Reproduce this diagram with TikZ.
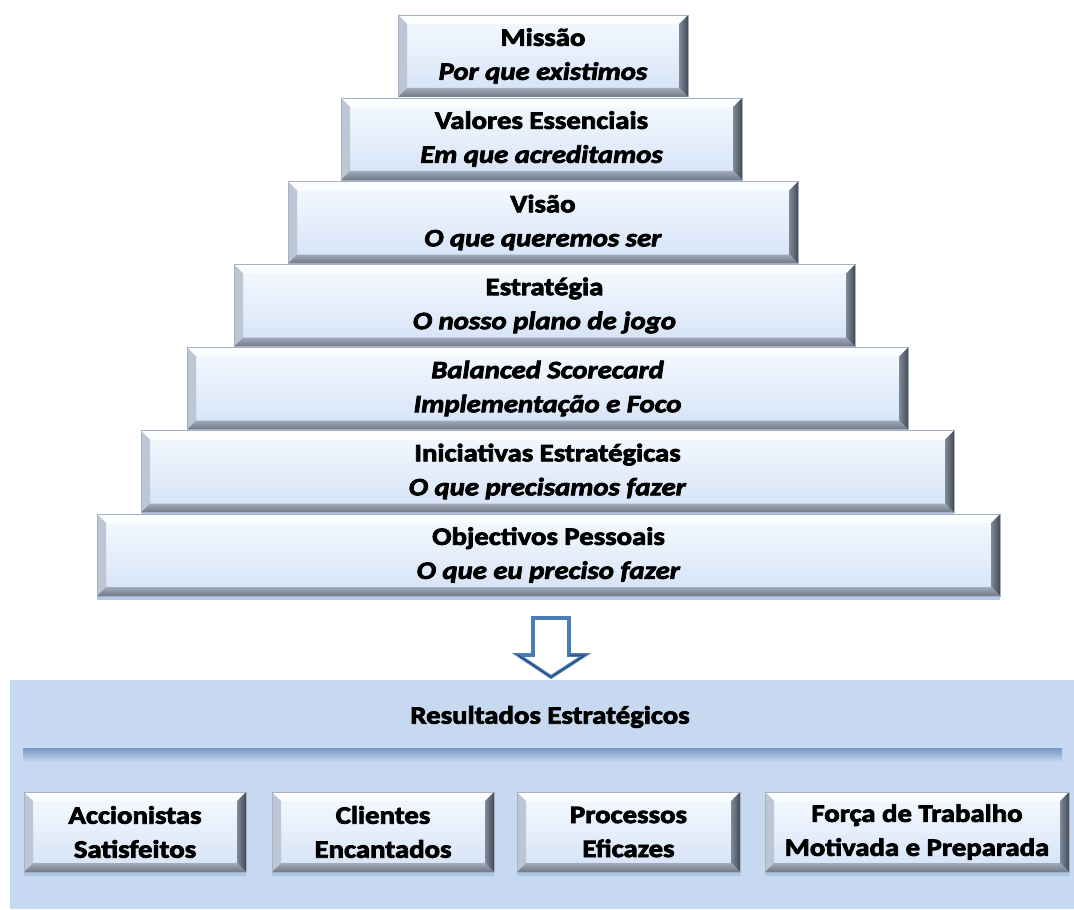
\documentclass[tikz,border=0pt]{standalone}
\usepackage{fontspec}
\setmainfont{Carlito}[
  FakeStretch=1.15,
  BoldFeatures={FakeBold=3.2},
  BoldItalicFeatures={FakeBold=3.2}]
\usetikzlibrary{shadows}
\definecolor{panelblue}{RGB}{198,217,241}
\definecolor{bodytop}{RGB}{246,250,255}
\definecolor{bodybot}{RGB}{212,226,246}
\definecolor{bevtop}{RGB}{252,253,255}
\definecolor{bevleft}{RGB}{188,198,212}
\definecolor{bevrightA}{RGB}{128,138,152}
\definecolor{bevrightB}{RGB}{66,74,86}
\definecolor{bevbotA}{RGB}{160,170,184}
\definecolor{bevbotB}{RGB}{110,120,134}
\definecolor{edge}{RGB}{165,176,192}
\definecolor{shadowblue}{RGB}{170,196,230}
\definecolor{arrowblue}{RGB}{74,124,186}
\definecolor{arrowdark}{RGB}{40,70,115}
\definecolor{ruletop}{RGB}{120,150,196}
\newlength{\bev}
\setlength{\bev}{4.5pt}
\tikzset{
  bevelbox/.style={
    draw=edge, line width=0.3pt,
    top color=bodytop, bottom color=bodybot,
    align=center, inner sep=0pt,
    font=\fontsize{12.5pt}{17pt}\selectfont\bfseries,
    drop shadow={shadow xshift=0pt, shadow yshift=-2pt, fill=shadowblue, opacity=0.9},
    path picture={
      \coordinate (pnw) at (path picture bounding box.north west);
      \coordinate (pne) at (path picture bounding box.north east);
      \coordinate (psw) at (path picture bounding box.south west);
      \coordinate (pse) at (path picture bounding box.south east);
      % top face of the bevel
      \fill[bevtop] (pnw) -- (pne) -- ([shift={(-\bev,-\bev)}]pne) -- ([shift={(\bev,-\bev)}]pnw) -- cycle;
      % left face
      \fill[bevleft] (pnw) -- ([shift={(\bev,-\bev)}]pnw) -- ([shift={(\bev,\bev)}]psw) -- (psw) -- cycle;
      % right face
      \shade[left color=bevrightA, right color=bevrightB] (pne) -- (pse) -- ([shift={(-\bev,\bev)}]pse) -- ([shift={(-\bev,-\bev)}]pne) -- cycle;
      % bottom face
      \shade[top color=bevbotA, bottom color=bevbotB] (psw) -- ([shift={(\bev,\bev)}]psw) -- ([shift={(-\bev,\bev)}]pse) -- (pse) -- cycle;
    }
  },
  tier/.style={bevelbox, minimum height=41pt},
  result/.style={bevelbox, minimum height=40pt, minimum width=111pt},
  arrowline/.style={draw=arrowblue, line width=1.8pt, fill=white, line join=miter},
  arrowedge/.style={draw=arrowdark, line width=0.5pt},
  rulebar/.style={top color=ruletop, bottom color=panelblue, inner sep=0pt, minimum height=7pt, minimum width=519.5pt},
}
\begin{document}
\begin{tikzpicture}[x=0.5pt, y=-0.5pt]
\useasboundingbox (0,0) rectangle (1074,909);
\fill[white] (0,0) rectangle (1074,909);

% lower panel with the strategic results
\node[fill=panelblue, minimum width=532pt, minimum height=114.5pt, inner sep=0pt] (panel) at (542,794.5) {};
\node[font=\fontsize{12.5pt}{14pt}\selectfont\bfseries] (res) at (550,717) {Resultados Estratégicos};
\node[rulebar] (rule) at (542.5,755) {};

% pyramid of tiers
\node[tier, minimum width=145pt]   (missao)    at (543,56)    {Missão\\\textit{Por que existimos}};
\node[tier, minimum width=200.5pt] (valores)   at (541.5,139) {Valores Essenciais\\\textit{Em que acreditamos}};
\node[tier, minimum width=255pt]   (visao)     at (543,222.5) {Visão\\\textit{O que queremos ser}};
\node[tier, minimum width=310.5pt] (estrategia) at (544.5,305.5) {Estratégia\\\textit{O nosso plano de jogo}};
\node[tier, minimum width=360.5pt] (bsc)       at (547.5,388.5) {\textit{Balanced Scorecard}\\\textit{Implementação e Foco}};
\node[tier, minimum width=406.5pt] (iniciativas) at (547.5,471.5) {Iniciativas Estratégicas\\\textit{O que precisamos fazer}};
\node[tier, minimum width=451.5pt] (objectivos) at (548.5,555) {Objectivos Pessoais\\\textit{O que eu preciso fazer}};

% block arrow down to the results
\draw[arrowline] (533,618) -- (569,618) -- (569,655) -- (585,655) -- (551,677) -- (518,655) -- (533,655) -- cycle;
\draw[arrowedge] (569,655) -- (585,655) -- (551,677) -- (518,655);

% result boxes
\node[result]                      (accionistas) at (135,832)   {Accionistas\\Satisfeitos};
\node[result]                      (clientes)    at (383,832)   {Clientes\\Encantados};
\node[result, minimum width=111.5pt] (processos) at (628.5,832) {Processos\\Eficazes};
\node[result, minimum width=152pt] (forca)       at (917,832)   {Força de Trabalho\\Motivada e Preparada};
\end{tikzpicture}
\end{document}
